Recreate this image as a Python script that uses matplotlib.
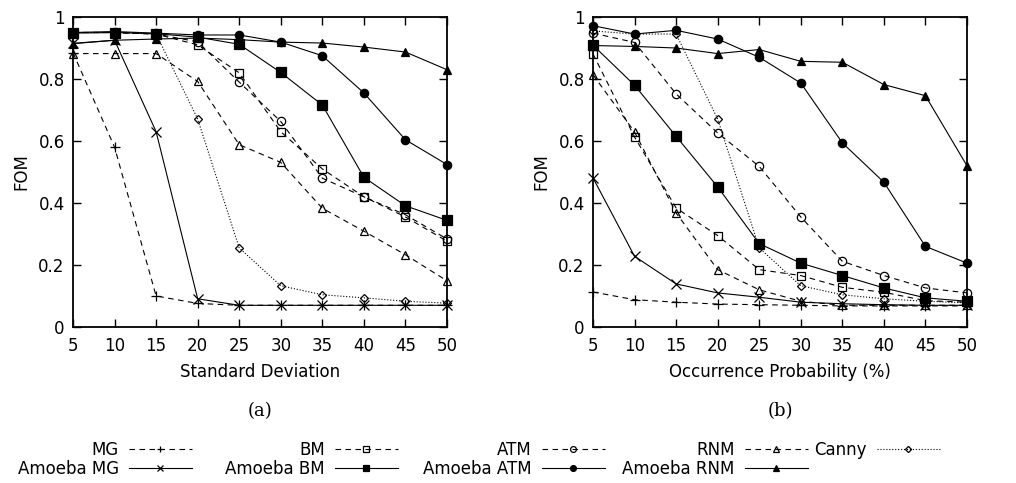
import numpy as np
import matplotlib
matplotlib.use('Agg')
import matplotlib.pyplot as plt

plt.rcParams['font.family'] = ['DejaVu Sans']

# x axis values
std_dev = [5, 10, 15, 20, 25, 30, 35, 40, 45, 50]
occ_prob = [5, 10, 15, 20, 25, 30, 35, 40, 45, 50]

# (a) FOM vs standard deviation
mg_a = [0.885, 0.58, 0.10, 0.076, 0.07, 0.07, 0.07, 0.07, 0.07, 0.07]
amg_a = [0.915, 0.925, 0.63, 0.091, 0.07, 0.07, 0.07, 0.07, 0.07, 0.07]
bm_a = [0.95, 0.95, 0.945, 0.91, 0.82, 0.63, 0.51, 0.42, 0.355, 0.277]
abm_a = [0.948, 0.95, 0.946, 0.935, 0.912, 0.821, 0.716, 0.483, 0.391, 0.344]
atm_a = [0.95, 0.95, 0.945, 0.92, 0.79, 0.663, 0.48, 0.42, 0.362, 0.284]
aatm_a = [0.95, 0.953, 0.948, 0.942, 0.942, 0.919, 0.875, 0.755, 0.604, 0.524]
rnm_a = [0.882, 0.882, 0.882, 0.792, 0.588, 0.531, 0.383, 0.309, 0.233, 0.149]
arnm_a = [0.914, 0.925, 0.929, 0.932, 0.927, 0.919, 0.916, 0.903, 0.887, 0.83]
canny_a = [0.95, 0.95, 0.945, 0.671, 0.255, 0.133, 0.104, 0.094, 0.083, 0.077]

# (b) FOM vs occurrence probability
mg_b = [0.113, 0.088, 0.08, 0.074, 0.072, 0.07, 0.068, 0.068, 0.068, 0.068]
amg_b = [0.481, 0.228, 0.139, 0.11, 0.096, 0.08, 0.075, 0.072, 0.07, 0.07]
bm_b = [0.881, 0.613, 0.384, 0.295, 0.185, 0.166, 0.128, 0.112, 0.085, 0.08]
abm_b = [0.909, 0.78, 0.615, 0.452, 0.269, 0.206, 0.166, 0.126, 0.094, 0.083]
atm_b = [0.948, 0.918, 0.752, 0.626, 0.518, 0.355, 0.212, 0.166, 0.126, 0.11]
aatm_b = [0.972, 0.945, 0.957, 0.929, 0.87, 0.787, 0.594, 0.467, 0.26, 0.206]
rnm_b = [0.814, 0.629, 0.368, 0.185, 0.12, 0.083, 0.07, 0.07, 0.07, 0.07]
arnm_b = [0.908, 0.905, 0.9, 0.882, 0.895, 0.857, 0.854, 0.782, 0.746, 0.52]
canny_b = [0.955, 0.945, 0.945, 0.671, 0.255, 0.133, 0.104, 0.091, 0.083, 0.078]

labels = ['MG', 'Amoeba MG', 'BM', 'Amoeba BM', 'ATM', 'Amoeba ATM',
          'RNM', 'Amoeba RNM', 'Canny']

dash = (5, 4)
styles = [
    dict(ls='--', dashes=dash, marker='+', ms=7, mfc='none'),
    dict(ls='-', marker='x', ms=6.5, mfc='none'),
    dict(ls='--', dashes=dash, marker='s', ms=6, mfc='none'),
    dict(ls='-', marker='s', ms=6.5),
    dict(ls='--', dashes=dash, marker='o', ms=6, mfc='none'),
    dict(ls='-', marker='o', ms=6),
    dict(ls='--', dashes=dash, marker='^', ms=6, mfc='none'),
    dict(ls='-', marker='^', ms=5.5),
    dict(ls=':', marker='D', ms=4.5, mfc='none'),
]

fig = plt.figure(figsize=(10.16, 4.83), dpi=100)
ax1 = fig.add_axes([73 / 1016, 156 / 483, 374 / 1016, 310 / 483])
ax2 = fig.add_axes([593 / 1016, 156 / 483, 374 / 1016, 310 / 483])

panels = [
    (ax1, std_dev, [mg_a, amg_a, bm_a, abm_a, atm_a, aatm_a, rnm_a, arnm_a, canny_a],
     'Standard Deviation', '(a)'),
    (ax2, occ_prob, [mg_b, amg_b, bm_b, abm_b, atm_b, aatm_b, rnm_b, arnm_b, canny_b],
     'Occurrence Probability (%)', '(b)'),
]

handles = []
for ax, xs, series, xlabel, tag in panels:
    handles = []
    for ys, lab, st in zip(series, labels, styles):
        line, = ax.plot(xs, ys, color='k', lw=0.8, mew=0.9, label=lab,
                        clip_on=False, **st)
        handles.append(line)
    ax.set_xlim(5, 50)
    ax.set_ylim(0, 1)
    ax.set_xticks(xs)
    ax.set_yticks([0, 0.2, 0.4, 0.6, 0.8, 1])
    ax.set_yticklabels(['0', '0.2', '0.4', '0.6', '0.8', '1'])
    ax.tick_params(direction='in', top=True, right=True, length=6, width=1,
                   labelsize=12)
    ax.tick_params(axis='x', pad=7)
    ax.tick_params(axis='y', pad=6)
    for sp in ax.spines.values():
        sp.set_linewidth(1.3)
    ax.set_xlabel(xlabel, fontsize=12, labelpad=6)
    ax.set_ylabel('FOM', fontsize=12, labelpad=6)
    ax.text(0.5, -0.27, tag, transform=ax.transAxes, ha='center', va='center',
            fontsize=13, family='DejaVu Serif')

# legend: gnuplot style columns, text then sample, right aligned
col_right = [192, 398, 605, 808, 940]
groups = [[0, 1], [2, 3], [4, 5], [6, 7], [8]]
for right, idx in zip(col_right, groups):
    fig.legend([handles[i] for i in idx], [labels[i] for i in idx],
               loc='upper right', bbox_to_anchor=(right / 1016, (483 - 441) / 483),
               frameon=False, markerfirst=False, numpoints=1, fontsize=12,
               handlelength=3.8, handletextpad=0.6, borderpad=0,
               borderaxespad=0, labelspacing=0.05, markerscale=0.7)

plt.savefig('out.png', dpi=100)
